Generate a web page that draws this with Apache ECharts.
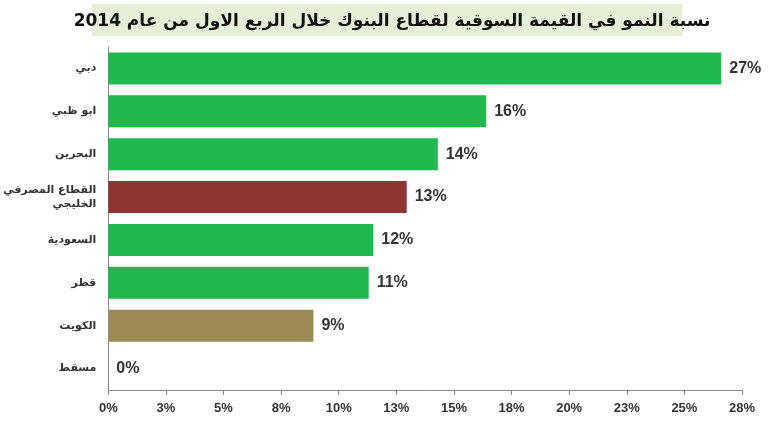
<!DOCTYPE html><html><head><meta charset="utf-8"><script src="https://cdn.jsdelivr.net/npm/echarts@6/dist/echarts.min.js"></script></head><body style="margin:0;background:#fff"><div id="c" style="width:770px;height:428px"></div><script>
const categories=["دبي","ابو ظبي","البحرين","القطاع المصرفي\nالخليجي","السعودية","قطر","الكويت","مسقط"];
const values=[26.6,16.4,14.3,12.95,11.5,11.3,8.9,0];
const valueLabels=["27%","16%","14%","13%","12%","11%","9%","0%"];
const colors=["#1fb84f","#1fb84f","#1fb84f","#8e3432","#1fb84f","#1fb84f","#9b8a55","#1fb84f"];
const c=echarts.init(document.getElementById('c'));
c.setOption({
graphic:[{type:'rect',shape:{x:92,y:4,width:590,height:32},style:{fill:'#e6f0d8'}}],
title:{text:'نسبة النمو في القيمة السوقية لقطاع البنوك خلال الربع الاول من عام 2014',left:387,top:8,textAlign:'center',textStyle:{fontFamily:'DejaVu Sans',fontSize:17,fontWeight:'bold',color:'#111'}},
grid:{left:103,right:28,top:47,bottom:38},
xAxis:{type:'value',min:0,max:27.5,interval:2.5,splitLine:{show:false},axisLine:{show:true,lineStyle:{color:'#888'}},axisTick:{show:true,lineStyle:{color:'#888'}},axisLabel:{formatter:v=>Math.round(v)+'%',fontFamily:'Liberation Sans',fontSize:13,fontWeight:'bold',color:'#333',margin:12}},
yAxis:{type:'category',inverse:true,data:categories,axisLine:{lineStyle:{color:'#888'}},axisTick:{show:false},axisLabel:{fontFamily:'DejaVu Sans',fontSize:11,fontWeight:'bold',color:'#333',margin:12,lineHeight:14}},
series:[{type:'bar',barWidth:32,data:values.map((v,i)=>({value:v,itemStyle:{color:colors[i]}})),label:{show:true,position:'right',distance:8,formatter:p=>valueLabels[p.dataIndex],fontFamily:'Liberation Sans',fontSize:16,fontWeight:'bold',color:'#333'}}]
});
</script></body></html>
